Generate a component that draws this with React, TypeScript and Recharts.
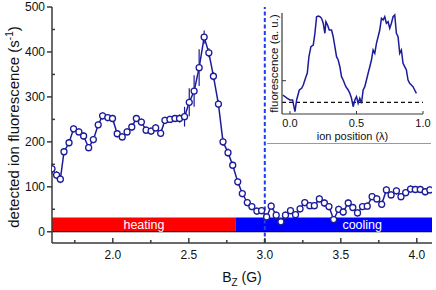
import React from 'react';
import { ComposedChart, LineChart, Line, XAxis, YAxis, ErrorBar, ReferenceArea, ReferenceLine } from 'recharts';

// ---- main panel data ----
const fieldG = [
  1.600, 1.630, 1.655, 1.679, 1.712, 1.742, 1.777, 1.808, 1.841, 1.872,
  1.904, 1.933, 1.967, 1.998, 2.029, 2.062, 2.094, 2.125, 2.155, 2.188,
  2.219, 2.252, 2.282, 2.315, 2.343, 2.376, 2.409, 2.439, 2.472, 2.503,
  2.535, 2.568, 2.601, 2.632, 2.662, 2.695, 2.725, 2.758, 2.789, 2.822,
  2.852, 2.885, 2.915, 2.948, 2.979, 3.012, 3.042, 3.075, 3.106, 3.136,
  3.169, 3.202, 3.232, 3.263, 3.296, 3.326, 3.359, 3.392, 3.422, 3.453,
  3.486, 3.516, 3.549, 3.579, 3.610, 3.643, 3.674, 3.706, 3.737, 3.769,
  3.800, 3.831, 3.866, 3.896, 3.927, 3.959, 3.990, 4.023, 4.055, 4.086,
];
const detectedRate = [
  140, 126, 117, 178, 198, 229, 222, 213, 187, 205,
  238, 258, 254, 252, 218, 211, 222, 233, 252, 244,
  226, 224, 231, 219, 248, 250, 252, 252, 256, 288,
  313, 365, 433, 398, 346, 284, 200, 176, 148, 111,
  85, 65, 56, 46, 47, 33, 57, 37, 22, 37,
  47, 38, 51, 65, 58, 58, 73, 64, 56, 27,
  50, 44, 64, 54, 42, 56, 57, 78, 73, 61,
  93, 82, 91, 78, 87, 95, 94, 94, 89, 93,
];
const rateError = [
  12, 9, 9, 8, 8, 8, 8, 8, 8, 8,
  8, 8, 8, 8, 8, 8, 8, 8, 8, 8,
  8, 8, 8, 8, 8, 8, 8, 9, 22, 31,
  35, 41, 15, 10, 9, 9, 9, 9, 8, 8,
  8, 8, 8, 8, 8, 8, 8, 8, 8, 8,
  8, 8, 8, 8, 8, 8, 8, 8, 8, 8,
  8, 8, 8, 8, 8, 8, 8, 8, 8, 8,
  8, 8, 8, 8, 8, 8, 8, 8, 8, 8,
];
const xTicks = [1.75, 2.0, 2.25, 2.5, 2.75, 3.0, 3.25, 3.5, 3.75, 4.0];
const xMajor = [2.0, 2.5, 3.0, 3.5, 4.0];
const yTicks = [0, 50, 100, 150, 200, 250, 300, 350, 400, 450, 500];
const yMajor = [0, 100, 200, 300, 400, 500];
const heatingEnd = 2.81;
const barTop = 32;
const resonanceField = 3.0;

// ---- inset data ----
const ionPosition = [
  -0.055, -0.0375, -0.02, 0, 0.02, 0.0375, 0.05, 0.07, 0.0875, 0.1,
  0.12, 0.13, 0.1425, 0.1575, 0.175, 0.1875, 0.2, 0.2125, 0.225, 0.2375,
  0.25, 0.2625, 0.27, 0.2825, 0.295, 0.3125, 0.325, 0.3375, 0.35, 0.3625,
  0.375, 0.3875, 0.4, 0.42, 0.4375, 0.45, 0.4625, 0.475, 0.4875, 0.5,
  0.5125, 0.525, 0.5375, 0.55, 0.5625, 0.575, 0.5875, 0.6, 0.6125, 0.625,
  0.6375, 0.65, 0.6625, 0.675, 0.6875, 0.7, 0.7125, 0.725, 0.7375, 0.75,
  0.7625, 0.775, 0.7875, 0.8, 0.8125, 0.825, 0.8375, 0.85, 0.8625, 0.875,
  0.8875, 0.9, 0.9125, 0.925, 0.9375, 0.95,
];
const insetFluor = [
  19, 17.3, 15.7, 14, 14, 2.3, 14, 24, 25.7, 29,
  37.3, 40.7, 57.3, 67.3, 69, 80.7, 97.3, 98, 97.3, 95.7,
  90.7, 80.7, 92.3, 89, 84, 84, 77.3, 67.3, 57.3, 54,
  47.3, 37.3, 34, 27.3, 24, 20.7, 15.7, 7.3, 14, 17.3,
  10.7, 15.7, 10.7, 24, 27.3, 34, 40.7, 47.3, 54, 64,
  60.7, 70.7, 77.3, 84, 95.7, 94, 97.3, 90.7, 92.3, 85.7,
  90.7, 97.3, 99, 80.7, 77.3, 60.7, 64, 50.7, 47.3, 44,
  34, 30.7, 29, 27.3, 24, 20.7,
];
const insetXTicks = [0, 0.5, 1.0];
const insetYTicks = [33.3];
const insetBaseline = 11.7;

const mainData = fieldG.map((b, i) => ({ b, rate: detectedRate[i], err: rateError[i] }));
const insetData = ionPosition.map((p, i) => ({ p, f: insetFluor[i] }));

const FONT = '"Liberation Sans", Arial, Helvetica, sans-serif';
const NAVY = '#1c1c9a';
const AXIS = '#3a3a3a';

const near = (v: number, list: number[]) => list.some((m) => Math.abs(m - v) < 1e-6);

const LeftTick = (props: any) => {
  const { x, y, payload } = props;
  const v = payload.value;
  if (near(v, yMajor)) {
    return (
      <g>
        <line x1={x - 5} x2={x} y1={y} y2={y} stroke={AXIS} strokeWidth={1.5} />
        <text x={x - 7} y={y} textAnchor="end" dominantBaseline="central" fontSize={12} fontFamily={FONT} fill="#111">
          {v}
        </text>
      </g>
    );
  }
  return <line x1={x} x2={x + 3} y1={y} y2={y} stroke={AXIS} strokeWidth={1.5} />;
};

const RightTick = (props: any) => {
  const { x, y, payload } = props;
  const len = near(payload.value, yMajor) ? 5 : 3;
  return <line x1={x - len} x2={x} y1={y} y2={y} stroke={AXIS} strokeWidth={1.5} />;
};

const BottomTick = (props: any) => {
  const { x, y, payload } = props;
  const v = payload.value;
  if (near(v, xMajor)) {
    return (
      <g>
        <line x1={x} x2={x} y1={y - 5} y2={y} stroke={AXIS} strokeWidth={1.5} />
        <text x={x} y={y + 12} textAnchor="middle" dominantBaseline="central" fontSize={12} fontFamily={FONT} fill="#111">
          {v.toFixed(1)}
        </text>
      </g>
    );
  }
  return <line x1={x} x2={x} y1={y - 3} y2={y} stroke={AXIS} strokeWidth={1.5} />;
};

const TopTick = (props: any) => {
  const { x, y, payload } = props;
  const len = near(payload.value, xMajor) ? 5 : 3;
  return <line x1={x} x2={x} y1={y} y2={y + len} stroke={AXIS} strokeWidth={1.5} />;
};

const MainYLabel = (props: any) => {
  const vb = props.viewBox || { x: 0, y: 7, width: 52, height: 236 };
  const cx = vb.x + 18.5;
  const cy = vb.y + vb.height / 2 + 2;
  return (
    <text x={cx} y={cy} transform={`rotate(-90 ${cx} ${cy})`} textAnchor="middle" fontSize={15} fontFamily={FONT} fill="#111">
      detected ion fluorescence (s
      <tspan fontSize={10} dy={-6}>-1</tspan>
      <tspan dy={6}>)</tspan>
    </text>
  );
};

const MainXLabel = (props: any) => {
  const vb = props.viewBox || { x: 52, y: 243, width: 380, height: 47 };
  const cx = vb.x + vb.width / 2;
  const y = vb.y + 39;
  return (
    <text x={cx} y={y} textAnchor="middle" fontSize={14} fontFamily={FONT} fill="#111">
      B
      <tspan fontSize={10} dy={4}>Z</tspan>
      <tspan dy={-4}> (G)</tspan>
    </text>
  );
};

const InsetBottomTick = (props: any) => {
  const { x, y, payload } = props;
  return (
    <g>
      <line x1={x} x2={x} y1={y - 3} y2={y} stroke={AXIS} strokeWidth={1} />
      <text x={x} y={y + 9} textAnchor="middle" dominantBaseline="central" fontSize={11} fontFamily={FONT} fill="#111">
        {payload.value.toFixed(1)}
      </text>
    </g>
  );
};

const InsetLeftTick = (props: any) => {
  const { x, y } = props;
  return <line x1={x} x2={x + 4} y1={y} y2={y} stroke={AXIS} strokeWidth={1} />;
};

const InsetYLabel = (props: any) => {
  const vb = props.viewBox || { x: 0, y: 5, width: 15, height: 101 };
  const cx = vb.x + 11;
  const cy = vb.y + vb.height / 2;
  return (
    <text x={cx} y={cy} transform={`rotate(-90 ${cx} ${cy})`} textAnchor="middle" fontSize={11.5} fontFamily={FONT} fill="#111">
      fluorescence (a. u.)
    </text>
  );
};

const InsetXLabel = (props: any) => {
  const vb = props.viewBox || { x: 15, y: 106, width: 141, height: 29 };
  const cx = vb.x + vb.width / 2;
  return (
    <text x={cx} y={vb.y + 26} textAnchor="middle" fontSize={11} fontFamily={FONT} fill="#111">
      ion position (λ)
    </text>
  );
};

export default function App() {
  return (
    <div style={{ position: 'absolute', left: 0, top: 0, width: 436, height: 290, background: '#fff' }}>
      <ComposedChart width={436} height={290} data={mainData} margin={{ top: 7, right: 4, bottom: 0, left: 0 }}>
        <XAxis
          dataKey="b"
          type="number"
          domain={[1.6, 4.1]}
          allowDataOverflow
          ticks={xTicks}
          interval={0}
          height={47}
          tickSize={0}
          tickMargin={0}
          tickLine={false}
          tick={BottomTick}
          axisLine={{ stroke: AXIS, strokeWidth: 1.5 }}
          label={<MainXLabel />}
        />
        <XAxis
          xAxisId="top"
          orientation="top"
          dataKey="b"
          type="number"
          domain={[1.6, 4.1]}
          allowDataOverflow
          ticks={xTicks}
          interval={0}
          height={0}
          tickSize={0}
          tickMargin={0}
          tickLine={false}
          tick={TopTick}
          axisLine={{ stroke: AXIS, strokeWidth: 1.5 }}
        />
        <YAxis
          type="number"
          domain={[-25, 500]}
          allowDataOverflow
          ticks={yTicks}
          interval={0}
          width={52}
          tickSize={0}
          tickMargin={0}
          tickLine={false}
          tick={LeftTick}
          axisLine={{ stroke: AXIS, strokeWidth: 1.5 }}
          label={<MainYLabel />}
        />
        <YAxis
          yAxisId="right"
          orientation="right"
          type="number"
          domain={[-25, 500]}
          allowDataOverflow
          ticks={yTicks}
          interval={0}
          width={0}
          tickSize={0}
          tickMargin={0}
          tickLine={false}
          tick={RightTick}
          axisLine={{ stroke: AXIS, strokeWidth: 1.5 }}
        />
        <ReferenceArea
          x1={1.6}
          x2={heatingEnd}
          y1={0}
          y2={barTop}
          fill="#ff0000"
          fillOpacity={1}
          stroke="none"
          label={{ value: 'heating', position: 'center', fill: '#ffffff', fontSize: 12.5, fontFamily: FONT }}
        />
        <ReferenceArea
          x1={heatingEnd}
          x2={4.1}
          y1={0}
          y2={barTop}
          fill="#0000ff"
          fillOpacity={1}
          stroke="none"
          label={{ value: 'cooling', position: 'insideRight', offset: 50, fill: '#ffffff', fontSize: 12.5, fontFamily: FONT }}
        />
        <ReferenceLine y={0} stroke="#000" strokeWidth={1} />
        <Line
          dataKey="rate"
          stroke={NAVY}
          strokeWidth={1.5}
          isAnimationActive={false}
          dot={{ r: 3, fill: '#ffffff', stroke: NAVY, strokeWidth: 1.3 }}
        >
          <ErrorBar dataKey="err" direction="y" width={0} stroke={NAVY} strokeWidth={1.2} isAnimationActive={false} />
        </Line>
        <ReferenceLine x={resonanceField} stroke="#1f3df0" strokeWidth={2} strokeDasharray="4 2.5" />
      </ComposedChart>

      <div
        style={{
          position: 'absolute',
          left: 267,
          top: 8,
          width: 164,
          height: 135,
          background: '#fff',
          borderBottom: '1px solid #9a9a9a',
        }}
      >
        <LineChart width={164} height={135} data={insetData} margin={{ top: 5, right: 8, bottom: 0, left: 0 }}>
          <XAxis
            dataKey="p"
            type="number"
            domain={[-0.06, 1.0]}
            allowDataOverflow
            ticks={insetXTicks}
            interval={0}
            height={29}
            tickSize={0}
            tickMargin={0}
            tickLine={false}
            tick={InsetBottomTick}
            axisLine={{ stroke: AXIS, strokeWidth: 1.2 }}
            label={<InsetXLabel />}
          />
          <XAxis
            xAxisId="top"
            orientation="top"
            dataKey="p"
            type="number"
            domain={[-0.06, 1.0]}
            allowDataOverflow
            height={0}
            tick={false}
            tickLine={false}
            axisLine={{ stroke: AXIS, strokeWidth: 1.2 }}
          />
          <YAxis
            type="number"
            domain={[0, 101]}
            allowDataOverflow
            ticks={insetYTicks}
            interval={0}
            width={15}
            tickSize={0}
            tickMargin={0}
            tickLine={false}
            tick={InsetLeftTick}
            axisLine={{ stroke: AXIS, strokeWidth: 1.2 }}
            label={<InsetYLabel />}
          />
          <YAxis
            yAxisId="right"
            orientation="right"
            type="number"
            domain={[0, 101]}
            allowDataOverflow
            width={0}
            tick={false}
            tickLine={false}
            axisLine={{ stroke: AXIS, strokeWidth: 1.2 }}
          />
          <ReferenceLine y={insetBaseline} stroke="#111" strokeWidth={1.2} strokeDasharray="4 3" />
          <Line dataKey="f" stroke={NAVY} strokeWidth={1.5} dot={false} isAnimationActive={false} />
        </LineChart>
      </div>
    </div>
  );
}
